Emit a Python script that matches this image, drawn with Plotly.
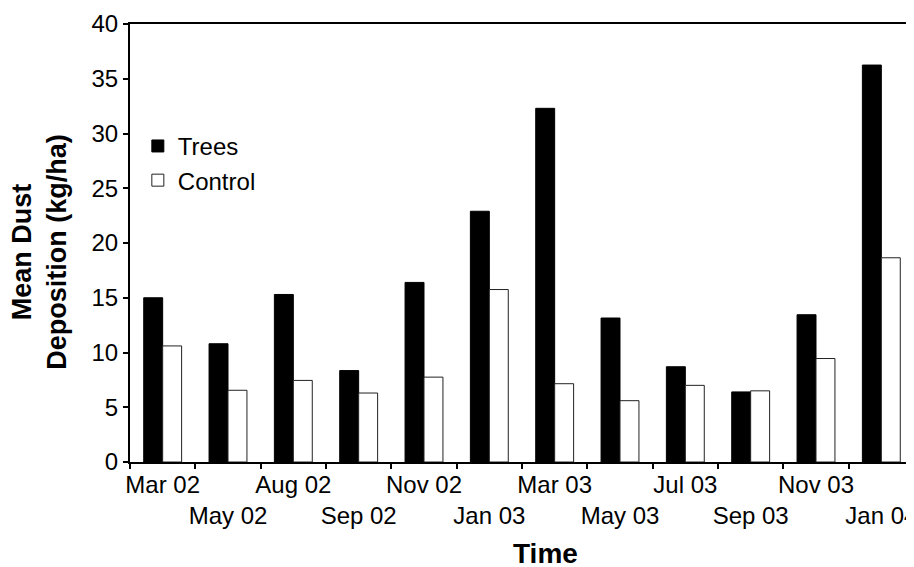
import plotly.graph_objects as go

categories = ["Mar 02", "May 02", "Aug 02", "Sep 02", "Nov 02", "Jan 03",
              "Mar 03", "May 03", "Jul 03", "Sep 03", "Nov 03", "Jan 04"]
trees = [15.0, 10.8, 15.3, 8.35, 16.4, 22.9, 32.3, 13.15, 8.7, 6.4, 13.45, 36.25]
control = [10.6, 6.55, 7.45, 6.3, 7.75, 15.75, 7.15, 5.6, 7.0, 6.5, 9.45, 18.65]
y_ticks = [0, 5, 10, 15, 20, 25, 30, 35, 40]

tick_text = [c if i % 2 == 0 else "<br>" + c for i, c in enumerate(categories)]

FONT = "Liberation Sans, Arial, sans-serif"

fig = go.Figure()
fig.add_trace(go.Bar(x=categories, y=trees, name="Trees",
                     marker=dict(color="black", line=dict(color="black", width=1))))
fig.add_trace(go.Bar(x=categories, y=control, name="Control",
                     marker=dict(color="white", line=dict(color="#222", width=1))))

fig.update_layout(
    width=906, height=559,
    margin=dict(l=122, r=0, t=16, b=105, autoexpand=False),
    paper_bgcolor="white", plot_bgcolor="white",
    barmode="group", bargap=0.42, bargroupgap=0,
    font=dict(family=FONT, size=24, color="black"),
    showlegend=True,
    legend=dict(x=0.01, y=0.772, xanchor="left", yanchor="top",
                bgcolor="rgba(0,0,0,0)", font=dict(size=24), itemwidth=30,
                tracegroupgap=0),
    xaxis=dict(
        type="category", tickmode="array", tickvals=categories, ticktext=tick_text,
        range=[-0.5, 11.5], showline=True, linecolor="black", linewidth=2,
        mirror=True, ticks="outside", ticklen=5, tickwidth=1.5, tickcolor="black",
        tickson="boundaries", showgrid=False, tickangle=0, automargin=False,
        tickfont=dict(size=24),
    ),
    yaxis=dict(
        range=[0, 40], tickvals=y_ticks, showline=True, linecolor="black",
        linewidth=2, ticks="outside", ticklen=5, tickwidth=1.5, tickcolor="black",
        showgrid=False, zeroline=False, tickfont=dict(size=24), automargin=False,
    ),
    annotations=[
        dict(text="<b>Mean Dust<br>Deposition (kg/ha)</b>", textangle=-90,
             xref="paper", yref="paper", x=(40 - 130) / 784, y=0.48,
             xanchor="center", yanchor="middle", showarrow=False,
             font=dict(size=27, family=FONT)),
        dict(text="<b>Time</b>", xref="paper", yref="paper",
             x=(545 - 130) / 784, y=-(553 - 462) / 438,
             xanchor="center", yanchor="middle", showarrow=False,
             font=dict(size=28, family=FONT)),
    ],
)

fig.write_html("out.html")
